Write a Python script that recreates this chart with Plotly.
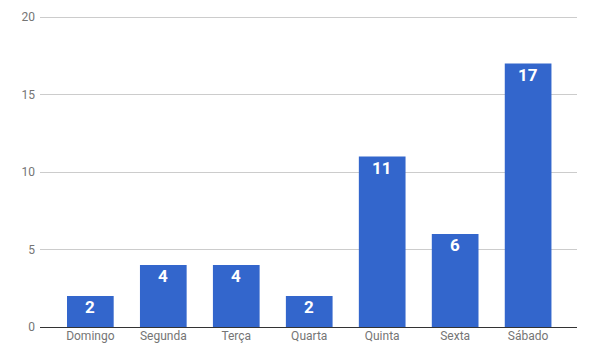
import plotly.graph_objects as go

days = ["Domingo", "Segunda", "Terça", "Quarta", "Quinta", "Sexta", "Sábado"]
counts = [2, 4, 4, 2, 11, 6, 17]
y_ticks = [0, 5, 10, 15, 20]

fig = go.Figure(go.Bar(
    x=list(range(len(days))),
    y=counts,
    marker=dict(color="#3366cc", line=dict(width=0)),
    width=0.64,
    hoverinfo="skip",
))

for i, c in enumerate(counts):
    fig.add_annotation(
        x=i, y=c, xref="x", yref="y",
        text=str(c), showarrow=False,
        yanchor="top", yshift=1,
        font=dict(family="Roboto", size=17, color="white", weight="bold"),
    )

fig.update_layout(
    width=590, height=359,
    margin=dict(l=40, r=13, t=14, b=32, autoexpand=False),
    paper_bgcolor="white", plot_bgcolor="white",
    font=dict(family="Roboto", size=12, color="#757575"),
    showlegend=False,
    xaxis=dict(
        range=[-0.69, 6.67],
        tickvals=list(range(len(days))),
        ticktext=days,
        showgrid=False,
        showline=False,
        zeroline=False,
        ticks="",
        automargin=False,
        ticklabelstandoff=0,
        tickfont=dict(size=12, color="#757575"),
        fixedrange=True,
    ),
    yaxis=dict(
        range=[0, 20.2],
        tickvals=y_ticks,
        showgrid=True,
        gridcolor="#cccccc",
        gridwidth=1,
        zeroline=True,
        zerolinecolor="#333333",
        zerolinewidth=1,
        showline=False,
        ticks="",
        automargin=False,
        ticklabelstandoff=4,
        tickfont=dict(size=12, color="#757575"),
        fixedrange=True,
    ),
)

fig.write_html(
    "out.html",
    config={"displayModeBar": False},
    post_script="document.body.style.margin='0';document.body.style.overflow='hidden';",
)
